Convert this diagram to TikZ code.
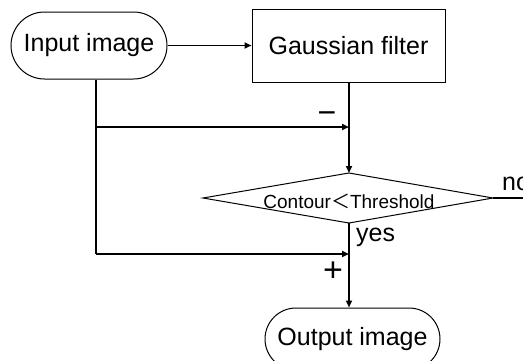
\documentclass[tikz,border=0pt]{standalone}
\usepackage{fontspec}
\setmainfont{Liberation Sans}
\newfontfamily\cjk{Noto Sans CJK SC}
\usetikzlibrary{shapes.misc,arrows.meta}
\tikzset{
  term/.style={draw, line width=1pt, rounded rectangle, inner sep=0pt, font=\fontsize{25}{28}\selectfont},
  procbox/.style={draw, line width=1pt, rectangle, inner sep=0pt, font=\fontsize{25}{28}\selectfont},
  conn/.style={line width=1.8pt},
  thick conn/.style={line width=2.2pt},
  tip/.style={-{Triangle[length=7pt,width=6pt]}},
  lbl/.style={inner sep=0pt, font=\fontsize{25}{28}\selectfont},
}
\begin{document}
\begin{tikzpicture}[x=1pt,y=-1pt]
\useasboundingbox (0,0) rectangle (523,360);
\node[term, minimum width=156pt, minimum height=67pt] (inp) at (89,45.5) {Input image};
\node[procbox, minimum width=193pt, minimum height=73pt] (gf) at (348.5,45.5) {Gaussian filter};
\node[term, minimum width=175pt, minimum height=62pt] (out) at (352.5,339) {Output image};
% decision diamond
\coordinate (dc) at (348,198);
\coordinate (dtop) at (349,173);
\coordinate (dleft) at (203,198);
\coordinate (dright) at (493,198);
\coordinate (dbot) at (349,223);
\draw[line width=1pt] (dtop) -- (dright) -- (dbot) -- (dleft) -- cycle;
\node[inner sep=0pt, font=\fontsize{19}{22}\selectfont] (dtext) at (349,201) {Contour{\cjk ＜}Threshold};
% junctions
\coordinate (j1) at (96,127);
\coordinate (j2) at (96,254);
\coordinate (noend) at (540,198);
% connectors
\draw[conn, tip] (inp.east) -- (gf.west);
\draw[conn] (j1 |- inp.south) -- (j2);
\draw[thick conn, tip] (j1) -- (j1 -| dtop);
\draw[thick conn, tip] (j2) -- (j2 -| dbot);
\draw[conn, tip] (dtop |- gf.south) -- (dtop);
\draw[conn, tip] (dbot) -- (dbot |- out.north);
\draw[conn] (dright) -- (noend);
% labels
\node[lbl, anchor=west] (nolbl) at (502,184) {no};
\node[lbl, anchor=west] (yeslbl) at (356,237) {yes};
\node[lbl, font=\fontsize{32}{34}\selectfont] (minus) at (327,118) {−};
\node[lbl, font=\fontsize{34}{36}\selectfont] (plus) at (333,272) {+};
\end{tikzpicture}
\end{document}
